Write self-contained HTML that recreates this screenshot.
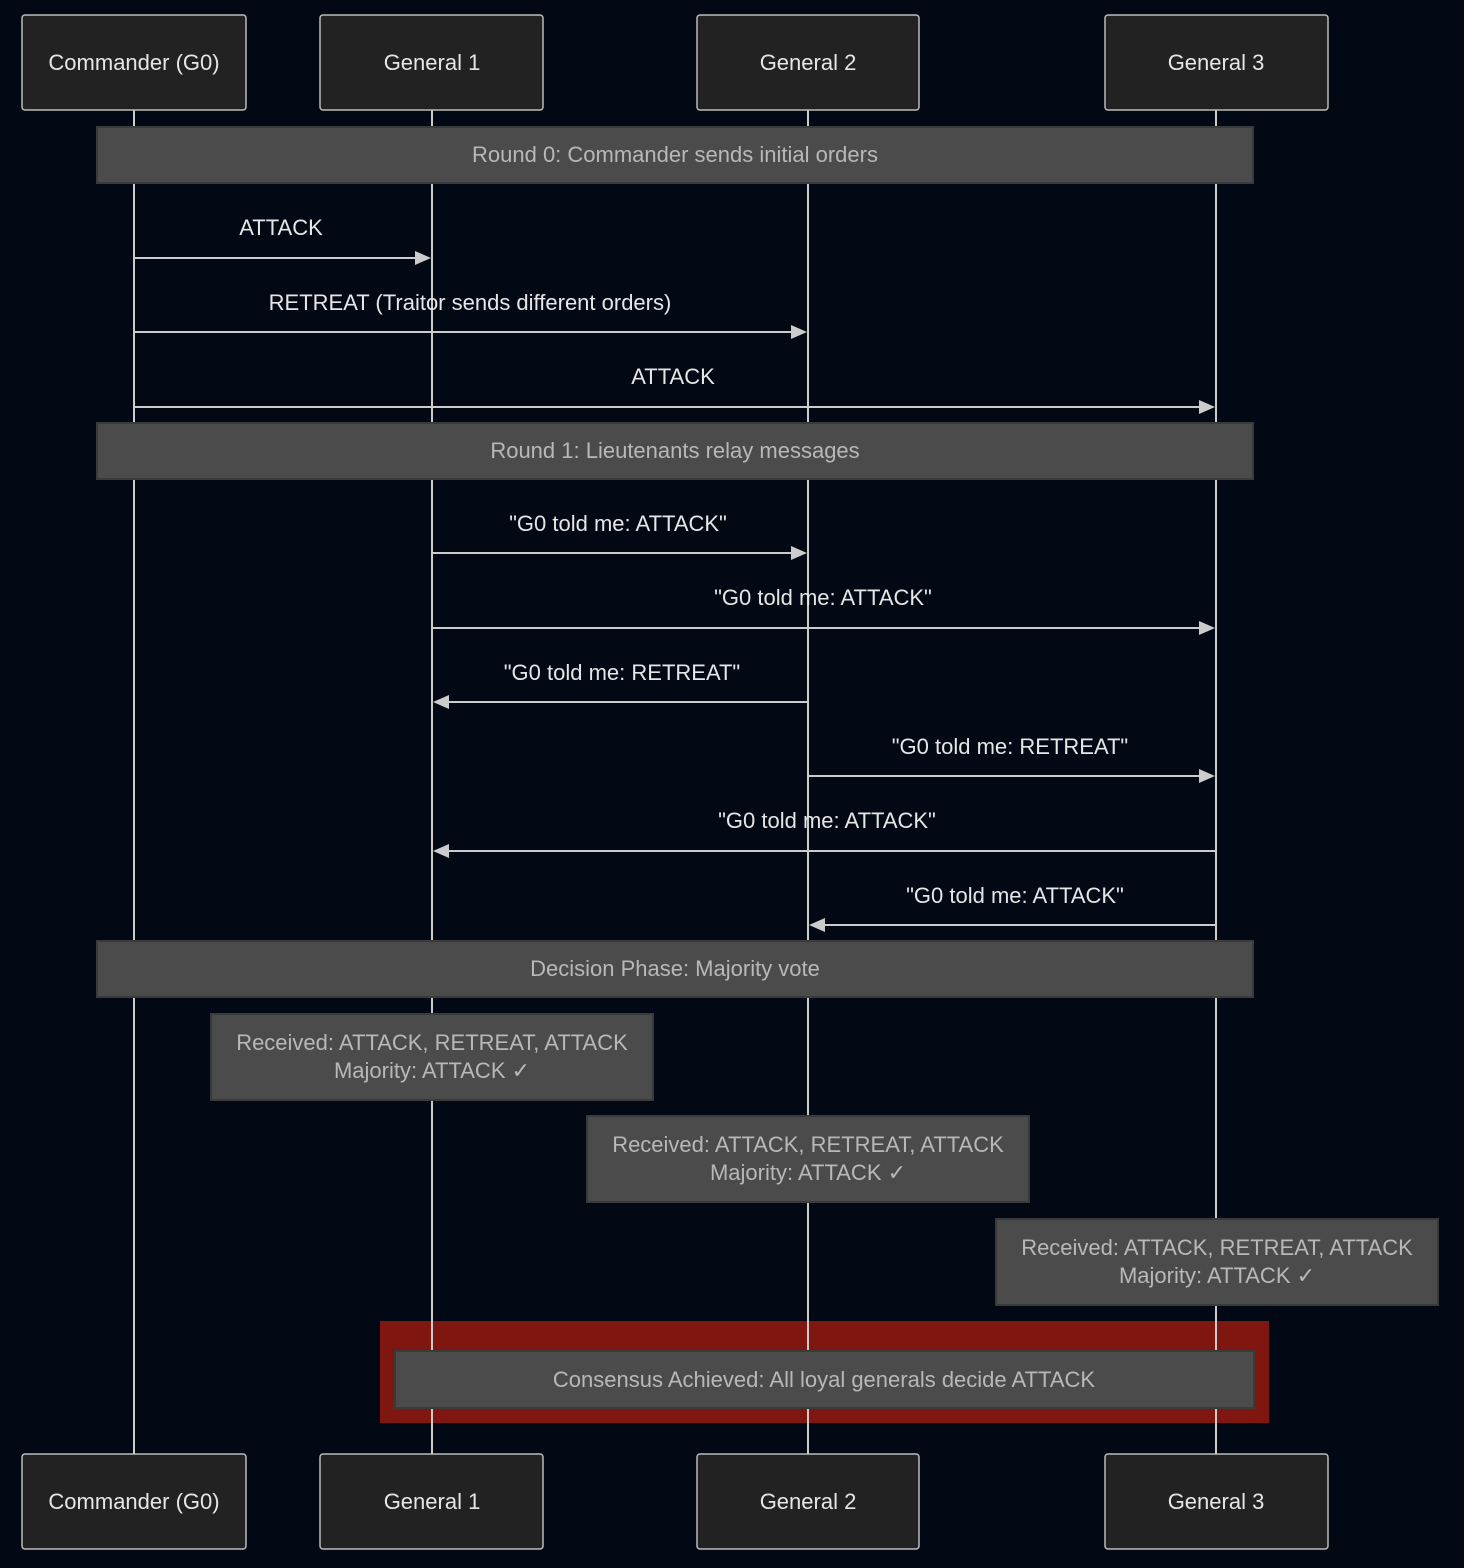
<!DOCTYPE html>
<html><head><meta charset="utf-8"><style>
html,body{margin:0;padding:0;background:#020814;}
svg{display:block;font-family:"Liberation Sans","DejaVu Sans",sans-serif;}
</style></head><body>
<svg width="1464" height="1568" viewBox="0 0 1464 1568" xmlns="http://www.w3.org/2000/svg">
<rect width="1464" height="1568" fill="#020814"/>
<rect x="380" y="1321" width="889" height="102" fill="#7f1710"/>
<g stroke="#cccccc" stroke-width="2">
<line x1="134" y1="110" x2="134" y2="1454"/>
<line x1="432" y1="110" x2="432" y2="1454"/>
<line x1="808" y1="110" x2="808" y2="1454"/>
<line x1="1216" y1="110" x2="1216" y2="1454"/>
</g>
<g fill="#222222" stroke="#bbbbbb" stroke-width="1.5">
<rect x="22" y="15" width="224" height="95" rx="3"/>
<rect x="320" y="15" width="223" height="95" rx="3"/>
<rect x="697" y="15" width="222" height="95" rx="3"/>
<rect x="1105" y="15" width="223" height="95" rx="3"/>
<rect x="22" y="1454" width="224" height="95" rx="3"/>
<rect x="320" y="1454" width="223" height="95" rx="3"/>
<rect x="697" y="1454" width="222" height="95" rx="3"/>
<rect x="1105" y="1454" width="223" height="95" rx="3"/>
</g>
<g fill="#e6e6e6" font-size="22" text-anchor="middle">
<text x="134" y="70">Commander (G0)</text>
<text x="432" y="70">General 1</text>
<text x="808" y="70">General 2</text>
<text x="1216" y="70">General 3</text>
<text x="134" y="1509">Commander (G0)</text>
<text x="432" y="1509">General 1</text>
<text x="808" y="1509">General 2</text>
<text x="1216" y="1509">General 3</text>
</g>
<g fill="#4a4b4a" stroke="#3a3a3a" stroke-width="2">
<rect x="97" y="127" width="1156" height="56"/>
<rect x="97" y="423" width="1156" height="56"/>
<rect x="97" y="941" width="1156" height="56"/>
<rect x="211" y="1014" width="442" height="86"/>
<rect x="587" y="1116" width="442" height="86"/>
<rect x="996" y="1219" width="442" height="86"/>
<rect x="395" y="1351" width="859" height="57"/>
</g>
<g fill="#b8b8b8" font-size="22" text-anchor="middle">
<text x="675" y="162">Round 0: Commander sends initial orders</text>
<text x="675" y="458">Round 1: Lieutenants relay messages</text>
<text x="675" y="976">Decision Phase: Majority vote</text>
<text x="432" y="1050">Received: ATTACK, RETREAT, ATTACK</text>
<text x="432" y="1078">Majority: ATTACK ✓</text>
<text x="808" y="1152">Received: ATTACK, RETREAT, ATTACK</text>
<text x="808" y="1180">Majority: ATTACK ✓</text>
<text x="1217" y="1255">Received: ATTACK, RETREAT, ATTACK</text>
<text x="1217" y="1283">Majority: ATTACK ✓</text>
<text x="824" y="1387">Consensus Achieved: All loyal generals decide ATTACK</text>
</g>
<g stroke="#cccccc" stroke-width="2">
<line x1="134" y1="258" x2="418" y2="258"/>
<line x1="134" y1="332" x2="794" y2="332"/>
<line x1="134" y1="407" x2="1202" y2="407"/>
<line x1="432" y1="553" x2="794" y2="553"/>
<line x1="432" y1="628" x2="1202" y2="628"/>
<line x1="808" y1="702" x2="446" y2="702"/>
<line x1="808" y1="776" x2="1202" y2="776"/>
<line x1="1216" y1="851" x2="446" y2="851"/>
<line x1="1216" y1="925" x2="822" y2="925"/>
</g>
<g fill="#cccccc">
<polygon points="431,258 415,251 415,265"/>
<polygon points="807,332 791,325 791,339"/>
<polygon points="1215,407 1199,400 1199,414"/>
<polygon points="807,553 791,546 791,560"/>
<polygon points="1215,628 1199,621 1199,635"/>
<polygon points="433,702 449,695 449,709"/>
<polygon points="1215,776 1199,769 1199,783"/>
<polygon points="433,851 449,844 449,858"/>
<polygon points="809,925 825,918 825,932"/>
</g>
<g fill="#e6e6e6" font-size="22" text-anchor="middle">
<text x="281" y="235">ATTACK</text>
<text x="470" y="310">RETREAT (Traitor sends different orders)</text>
<text x="673" y="384">ATTACK</text>
<text x="618" y="531">"G0 told me: ATTACK"</text>
<text x="823" y="605">"G0 told me: ATTACK"</text>
<text x="622" y="680">"G0 told me: RETREAT"</text>
<text x="1010" y="754">"G0 told me: RETREAT"</text>
<text x="827" y="828">"G0 told me: ATTACK"</text>
<text x="1015" y="903">"G0 told me: ATTACK"</text>
</g>
</svg>
</body></html>
